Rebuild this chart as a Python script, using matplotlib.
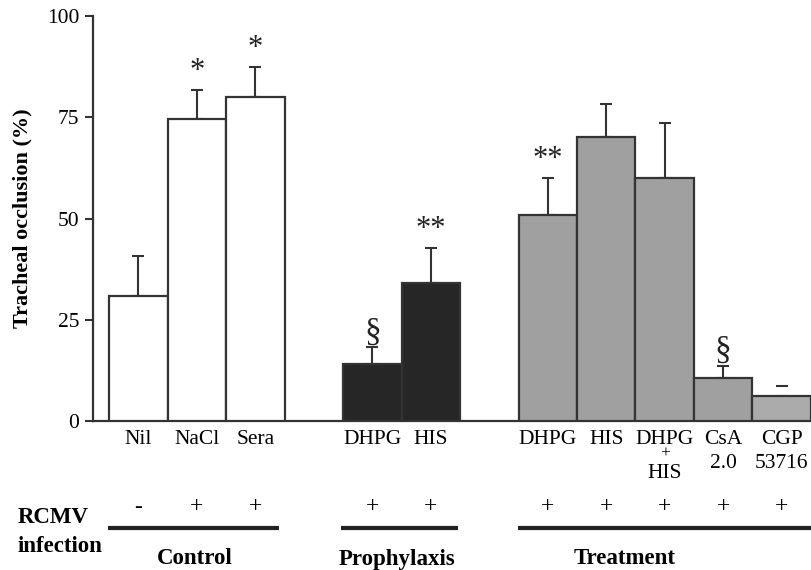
import numpy as np
import matplotlib
matplotlib.use("Agg")
import matplotlib.pyplot as plt
import matplotlib.transforms as mtransforms

plt.rcParams['font.family'] = ['Liberation Serif', 'DejaVu Serif']

# bar data (tracheal occlusion %, mean and upper error)
positions = [0, 1, 2, 4, 5, 7, 8, 9, 10, 11]
labels = ["Nil", "NaCl", "Sera", "DHPG", "HIS", "DHPG", "HIS", "DHPG\n+\nHIS", "CsA\n2.0", "CGP\n53716"]
means = [30.9, 74.5, 80.1, 14.1, 34.1, 50.9, 70.2, 59.9, 10.5, 6.2]
errors = [9.8, 7.2, 7.3, 4.1, 8.7, 9.0, 8.1, 13.6, 3.1, 2.4]
marks = ["", "*", "*", "\u00a7", "**", "**", "", "", "\u00a7", ""]
infection = ["-", "+", "+", "+", "+", "+", "+", "+", "+", "+"]
colors = ["white", "white", "white", "#262626", "#262626",
          "#a0a0a0", "#a0a0a0", "#a0a0a0", "#a0a0a0", "#ababab"]

groups = ["Control", "Prophylaxis", "Treatment"]
group_label_x = [0.97, 4.42, 8.31]
group_line = [(-0.52, 2.40), (3.46, 5.46), (6.49, 11.6)]

yticks = [0, 25, 50, 75, 100]

W, H = 812, 570
fig = plt.figure(figsize=(W / 100, H / 100), dpi=100)
ax = fig.add_axes([93 / W, 1 - 421 / H, (W - 93) / W, 405 / H])

edge = "#333333"
ax.bar(positions, means, width=1.0, color=colors, edgecolor=edge, linewidth=1.6, zorder=3)

# upper error bars only (last one shows just a cap)
ax.errorbar(positions[:-1], means[:-1], yerr=[np.zeros(9), errors[:-1]], fmt="none",
            ecolor=edge, elinewidth=1.5, capsize=4.3, capthick=1.5, zorder=2)
ax.errorbar(positions[-1:], means[-1:], yerr=[[0], errors[-1:]], fmt="none",
            ecolor=edge, elinewidth=0, capsize=4.3, capthick=1.5, zorder=2)

for x, m, e, s in zip(positions, means, errors, marks):
    if not s:
        continue
    if "*" in s:
        ax.annotate(s, (x, m + e), xytext=(0, 8), textcoords="offset points",
                    ha="center", va="baseline", fontsize=22, color="#222222")
    else:
        ax.annotate(s, (x, m + e), xytext=(0, 5), textcoords="offset points",
                    ha="center", va="baseline", fontsize=24, color="#222222")

ax.set_xlim(-0.778, 11.52)
ax.set_ylim(0, 100)
ax.set_yticks(yticks)
ax.set_yticklabels([str(t) for t in yticks], fontsize=15.5)
ax.set_xticks([])
ax.tick_params(axis="y", direction="out", length=6, width=1.5, color=edge, pad=4)
for side in ["top", "right"]:
    ax.spines[side].set_visible(False)
for side in ["left", "bottom"]:
    ax.spines[side].set_linewidth(1.6)
    ax.spines[side].set_color(edge)

fig.text(22 / W, 1 - 218.5 / H, "Tracheal occlusion (%)", rotation=90,
         ha="center", va="center", fontsize=16, fontweight="bold")

tr = mtransforms.blended_transform_factory(ax.transData, fig.transFigure)

def fy(py):
    return 1 - py / H

# category labels
for x, lab in zip(positions, labels):
    parts = lab.split("\n")
    ax.text(x, fy(443.5), parts[0], transform=tr, ha="center", va="baseline", fontsize=15.5)
    if len(parts) == 2:
        ax.text(x, fy(468), parts[1], transform=tr, ha="center", va="baseline", fontsize=15.5)
    elif len(parts) == 3:
        ax.text(x, fy(458), parts[1], transform=tr, ha="center", va="baseline", fontsize=12.5)
        ax.text(x, fy(478.5), parts[2], transform=tr, ha="center", va="baseline", fontsize=15.5)

# infection row
for x, s in zip(positions, infection):
    ax.text(x, fy(512.5), s, transform=tr, ha="center", va="baseline", fontsize=17)

fig.text(18 / W, fy(523), "RCMV", ha="left", va="baseline", fontsize=16.5, fontweight="bold")
fig.text(18 / W, fy(552), "infection", ha="left", va="baseline", fontsize=16.5, fontweight="bold")

for name, lx, (x0, x1) in zip(groups, group_label_x, group_line):
    ax.plot([x0, x1], [fy(527.7), fy(527.7)], transform=tr, color="#222222",
            linewidth=3, solid_capstyle="butt", clip_on=False)
    ax.text(lx, fy(564.5), name, transform=tr, ha="center", va="baseline",
            fontsize=16.5, fontweight="bold")

fig.savefig("out.png", dpi=100)
